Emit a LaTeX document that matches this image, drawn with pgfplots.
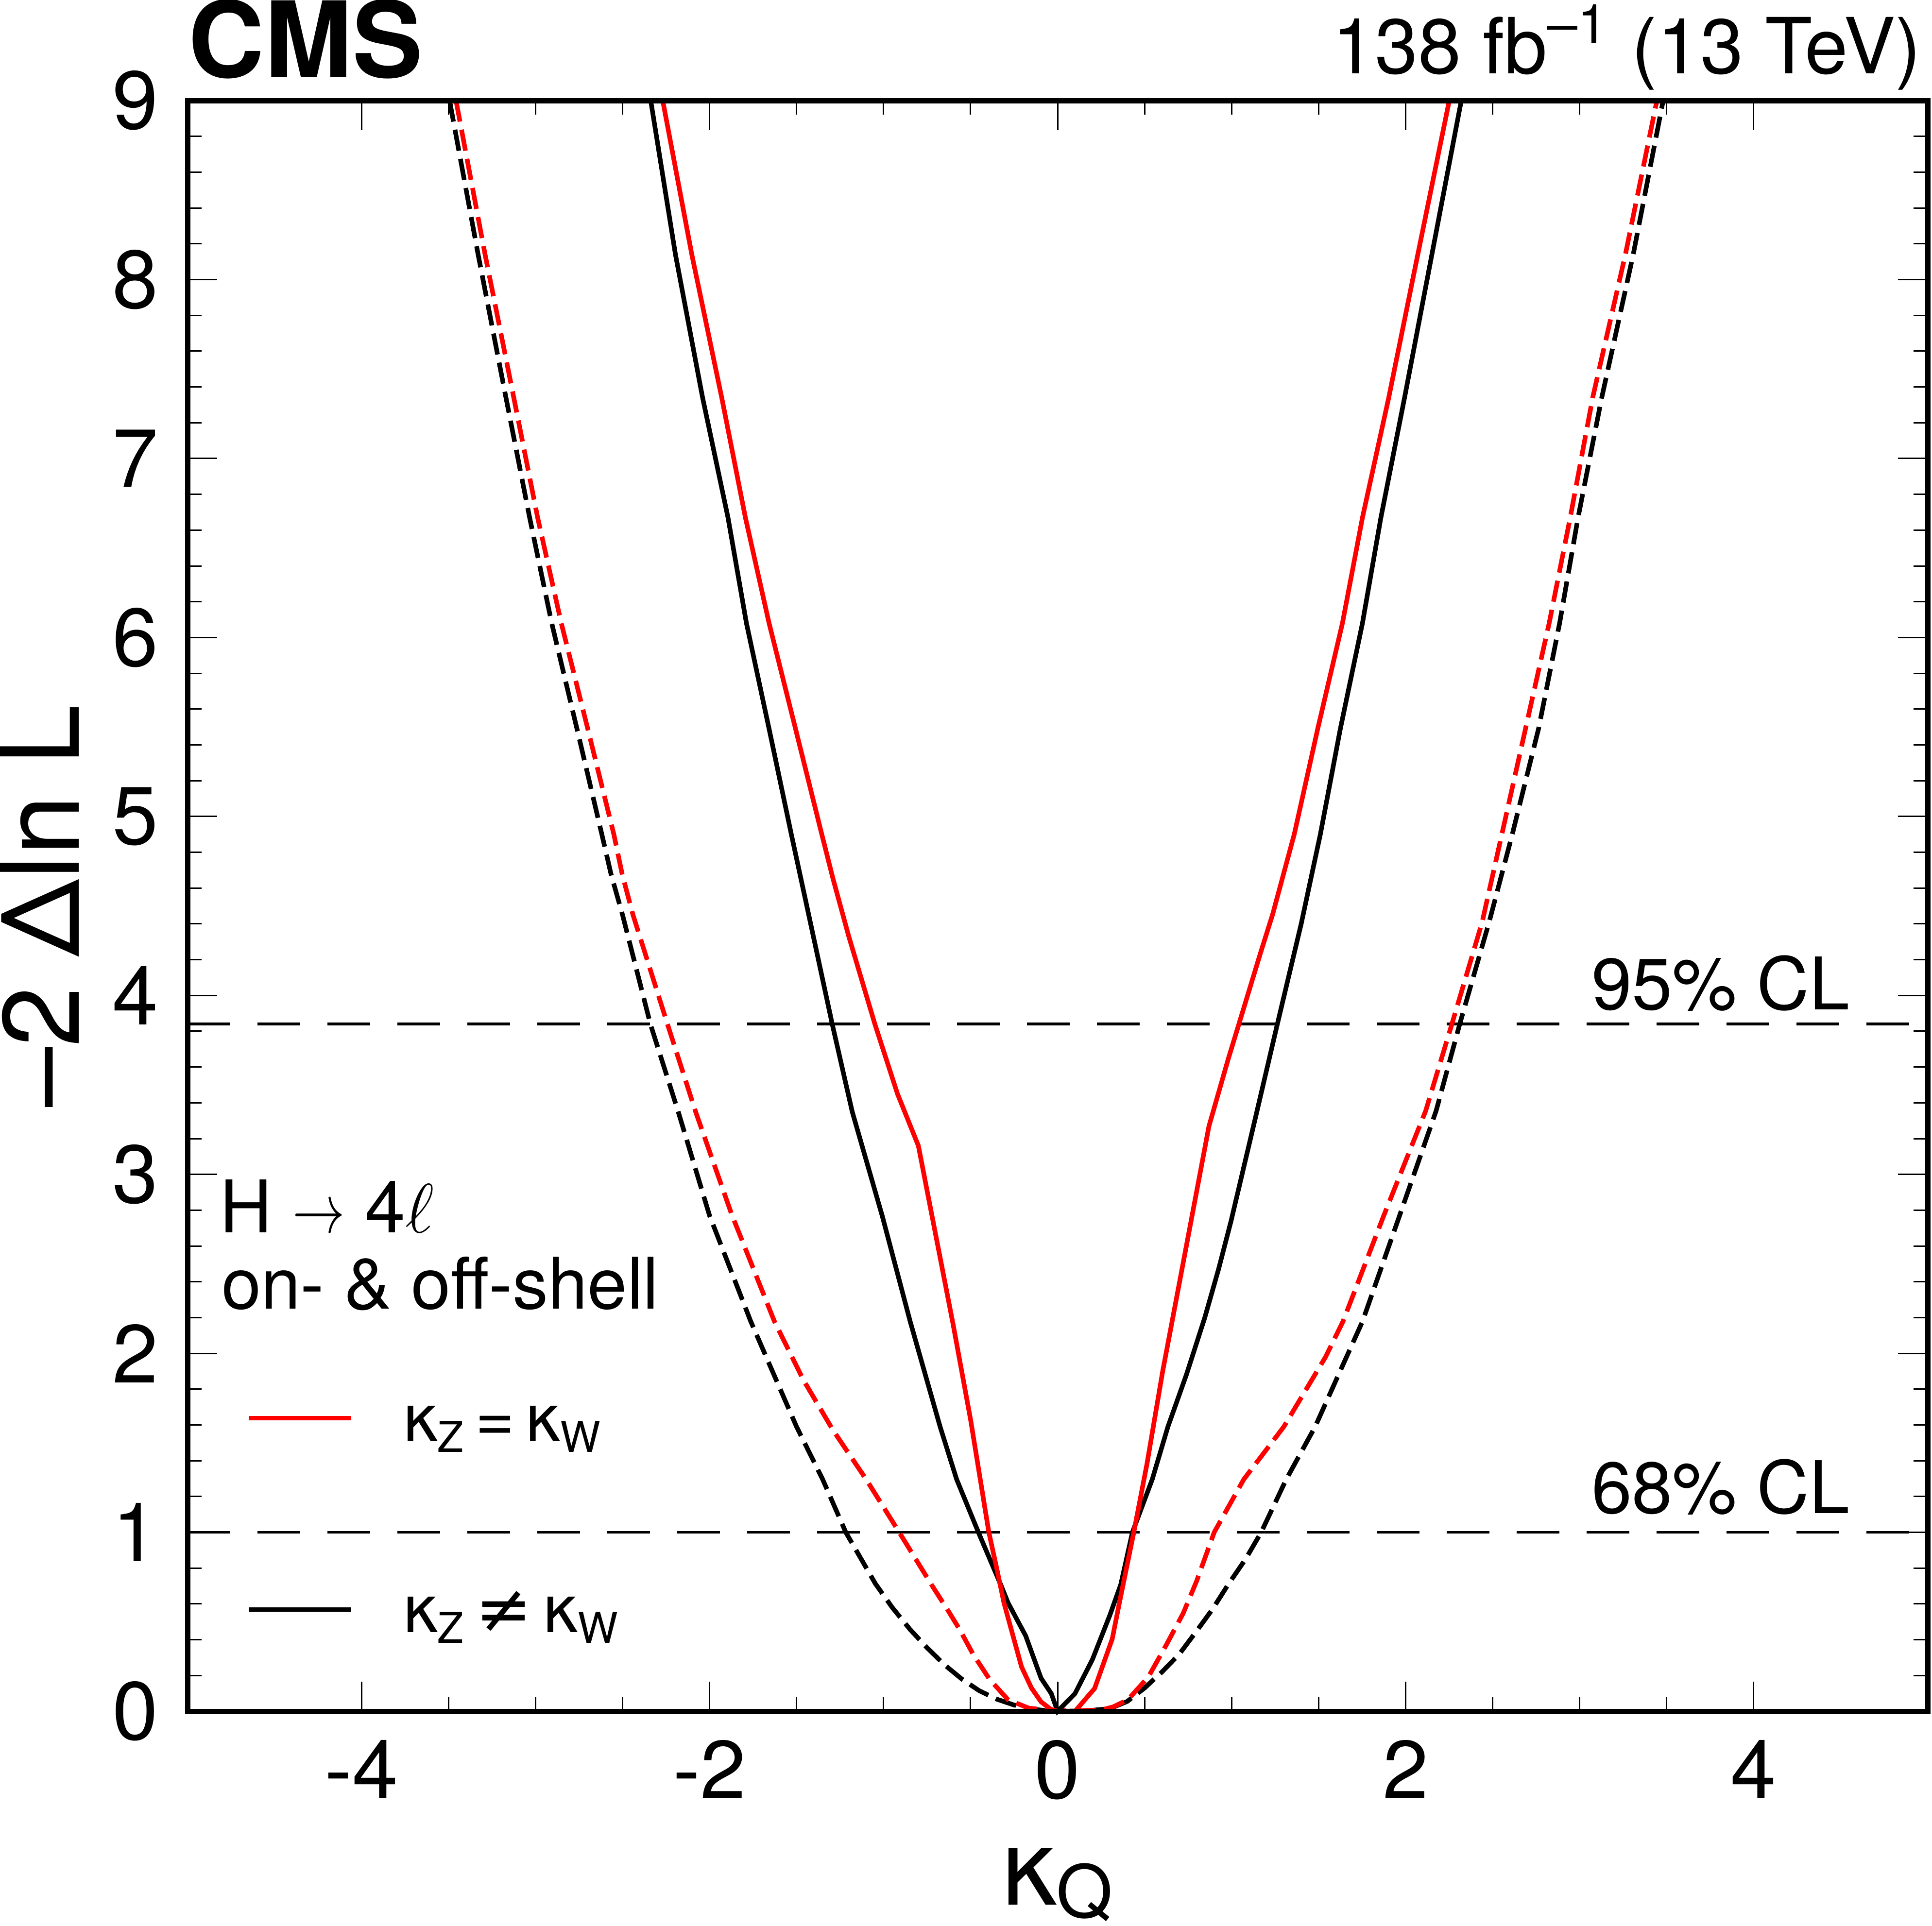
\documentclass[border=0pt]{standalone}
\usepackage{pgfplots}
\pgfplotsset{compat=1.18}
\usepackage{graphicx}
\usepackage{fontspec}
\setmainfont{TeX Gyre Heros}
\newfontfamily\dejavu{DejaVu Sans}
\newcommand{\tl}{\fontsize{17}{20}\selectfont}
\newcommand{\lsub}[1]{\raisebox{-2.2bp}{\fontsize{8.8}{10}\selectfont #1}}
\begin{document}
\begin{tikzpicture}
\begin{axis}[
  at={(0,0)}, anchor=south west,
  scale only axis, width=358.2bp, height=331.6bp,
  xmin=-5, xmax=5, ymin=0, ymax=9,
  xtick={-4,-2,0,2,4}, xticklabels={-4,-2,0,2,4},
  ytick={0,1,2,3,4,5,6,7,8,9}, yticklabels={0,1,2,3,4,5,6,7,8,9},
  minor x tick num=3, minor y tick num=4,
  tick align=inside, xtick pos=both, ytick pos=both,
  major tick length=6.1bp, minor tick length=2.9bp,
  tick style={black, line width=0.3bp},
  axis line style={line width=1.1bp},
  tick label style={font=\tl, inner sep=0pt},
  xticklabel style={anchor=base, yshift=-17.9bp},
  yticklabel style={anchor=east, xshift=-5.8bp},
  clip=false, axis on top,
]
% 68% and 95% CL lines
\addplot[black, line width=0.55bp, dash pattern=on 8.8bp off 5.6bp] coordinates {(-5,3.84) (5,3.84)};
\addplot[black, line width=0.55bp, dash pattern=on 8.8bp off 5.6bp] coordinates {(-5,1) (5,1)};
% expected, kZ != kW
\addplot[black, line width=0.95bp, dash pattern=on 4.4bp off 1.7bp] coordinates {
(-3.494,9) (-3.33,8.14) (-3.17,7.34) (-3.034,6.67) (-2.907,6.08) (-2.762,5.49) (-2.619,4.90) (-2.566,4.677) (-2.50,4.45) (-2.34,3.84) (-2.18,3.35) (-2.00,2.77) (-1.763,2.178) (-1.50,1.59) (-1.35,1.296) (-1.217,1.0) (-1.047,0.713) (-0.95,0.58) (-0.85,0.46) (-0.75,0.355) (-0.65,0.26) (-0.55,0.18) (-0.45,0.115) (-0.35,0.068) (-0.25,0.035) (-0.15,0.013) (-0.05,0.002) (0,0) (0.10,0.002) (0.20,0.006) (0.30,0.015) (0.40,0.055) (0.50,0.13) (0.60,0.22) (0.70,0.32) (0.80,0.45) (0.89,0.57) (0.98,0.708) (1.08,0.85) (1.17,1.0) (1.314,1.296) (1.48,1.59) (1.752,2.178) (1.964,2.766) (2.175,3.354) (2.311,3.84) (2.48,4.41) (2.613,4.90) (2.764,5.49) (2.885,6.08) (2.991,6.67) (3.127,7.34) (3.308,8.14) (3.48,9)};
% expected, kZ = kW
\addplot[red, line width=0.95bp, dash pattern=on 4.4bp off 1.7bp] coordinates {
(-3.457,9) (-3.29,8.14) (-3.125,7.34) (-2.988,6.67) (-2.852,6.08) (-2.70,5.49) (-2.55,4.90) (-2.502,4.677) (-2.44,4.45) (-2.242,3.84) (-2.078,3.344) (-1.873,2.777) (-1.627,2.178) (-1.46,1.85) (-1.29,1.57) (-1.10,1.296) (-0.91,1.0) (-0.725,0.708) (-0.627,0.559) (-0.562,0.456) (-0.485,0.318) (-0.391,0.179) (-0.284,0.064) (-0.166,0.018) (-0.05,0.005) (0.1,0.003) (0.249,0.007) (0.32,0.025) (0.403,0.064) (0.521,0.191) (0.627,0.375) (0.722,0.548) (0.80,0.73) (0.90,1.0) (1.07,1.296) (1.30,1.59) (1.54,1.98) (1.64,2.178) (1.873,2.766) (2.115,3.354) (2.266,3.84) (2.44,4.41) (2.553,4.90) (2.689,5.49) (2.825,6.08) (2.946,6.67) (3.075,7.34) (3.263,8.14) (3.444,9)};
% observed, kZ != kW
\addplot[black, line width=0.95bp] coordinates {
(-2.338,9) (-2.196,8.14) (-2.04,7.34) (-1.894,6.67) (-1.788,6.08) (-1.658,5.49) (-1.53,4.90) (-1.43,4.45) (-1.295,3.84) (-1.18,3.35) (-1.007,2.766) (-0.847,2.178) (-0.675,1.59) (-0.58,1.296) (-0.455,1.0) (-0.327,0.708) (-0.284,0.605) (-0.183,0.421) (-0.095,0.185) (-0.036,0.099) (0,0) (0.10,0.099) (0.20,0.289) (0.30,0.536) (0.363,0.708) (0.43,1.0) (0.544,1.296) (0.634,1.59) (0.74,1.88) (0.846,2.20) (0.925,2.47) (0.997,2.74) (1.133,3.30) (1.263,3.84) (1.40,4.40) (1.51,4.90) (1.625,5.49) (1.752,6.08) (1.858,6.67) (1.994,7.34) (2.151,8.14) (2.32,9)};
% observed, kZ = kW
\addplot[red, line width=0.95bp] coordinates {
(-2.269,9) (-2.102,8.14) (-1.93,7.34) (-1.794,6.67) (-1.658,6.08) (-1.506,5.49) (-1.355,4.90) (-1.29,4.65) (-1.20,4.33) (-1.05,3.84) (-0.92,3.45) (-0.80,3.16) (-0.70,2.66) (-0.60,2.16) (-0.50,1.63) (-0.45,1.33) (-0.395,1.0) (-0.35,0.80) (-0.308,0.605) (-0.207,0.248) (-0.15,0.13) (-0.095,0.053) (-0.04,0.012) (0,0) (0.10,0.0) (0.213,0.128) (0.314,0.404) (0.355,0.605) (0.438,1.0) (0.514,1.384) (0.604,1.90) (0.74,2.60) (0.87,3.27) (0.982,3.649) (1.042,3.84) (1.166,4.237) (1.235,4.45) (1.36,4.90) (1.495,5.49) (1.637,6.08) (1.752,6.67) (1.903,7.34) (2.07,8.14) (2.251,9)};
% texts
\node[anchor=base west, inner sep=0pt, font=\fontsize{21.8}{26}\selectfont\bfseries] at (axis cs:-5,9.128) {CMS};
\node[anchor=base east, inner sep=0pt, font=\fontsize{16}{19}\selectfont] at (axis cs:4.969,9.152) {138 fb\textsuperscript{\textendash1} (13 TeV)};
\node[anchor=base west, inner sep=0pt, font=\fontsize{15}{18}\selectfont] at (axis cs:-4.819,2.674) {H \scalebox{0.75}[1]{$\rightarrow$} 4$\ell$};
\node[anchor=base west, inner sep=0pt, font=\fontsize{14.7}{18}\selectfont] at (axis cs:-4.81,2.250) {on- \& off-shell};
\node[anchor=base west, inner sep=0pt, font=\fontsize{15}{18}\selectfont] at (axis cs:3.063,3.922) {95\% CL};
\node[anchor=base west, inner sep=0pt, font=\fontsize{15}{18}\selectfont] at (axis cs:3.063,1.105) {68\% CL};
% legend
\draw[red, line width=0.9bp] (axis cs:-4.648,1.637) -- (axis cs:-4.059,1.637);
\draw[black, line width=0.9bp] (axis cs:-4.648,0.570) -- (axis cs:-4.059,0.570);
\node[anchor=base west, inner sep=0pt, font=\fontsize{14}{17}\selectfont] at (axis cs:-3.763,1.509) {κ\lsub{Z}\kern2.4bp=\kern2.4bp κ\lsub{W}};
\node[anchor=base west, inner sep=0pt, font=\fontsize{14}{17}\selectfont] at (axis cs:-3.763,0.442) {κ\lsub{Z}\kern2.4bp{\dejavu ≠}\kern2.4bp κ\lsub{W}};
% axis titles
\node[anchor=base, inner sep=0pt, font=\fontsize{22.4}{26}\selectfont] at (axis cs:0,-1.0804) {κ\raisebox{-2.6bp}{\fontsize{15}{18}\selectfont Q}};
\node[rotate=90, anchor=base, inner sep=0pt, font=\fontsize{22.4}{26}\selectfont] at (axis cs:-5.6253,4.5) {\textendash2 Δln L};
\end{axis}
\pgfresetboundingbox
\useasboundingbox (-38.6bp,-44.2bp) rectangle (359.1bp,352.3bp);
\end{tikzpicture}
\end{document}
